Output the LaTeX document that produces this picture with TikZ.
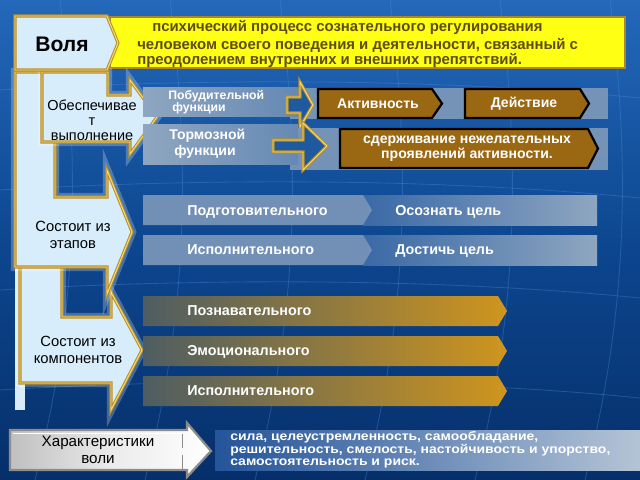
\documentclass[tikz,border=0pt]{standalone}
\usepackage{fontspec}
\setmainfont{Liberation Sans}
\definecolor{bgtop}{HTML}{2468BA}
\definecolor{bgmid}{HTML}{0D4790}
\definecolor{bgbot}{HTML}{062F6A}
\definecolor{gridc}{HTML}{4A8FE0}
\definecolor{pale}{HTML}{D8EDFB}
\definecolor{goldD}{HTML}{B8902A}
\definecolor{goldL}{HTML}{F4DC7C}
\definecolor{yel}{HTML}{FFFF14}
\definecolor{yelB}{HTML}{A8862E}
\definecolor{deftxt}{HTML}{5E4C16}
\definecolor{brownbox}{HTML}{9A6812}
\definecolor{band}{HTML}{7F9AB9}
\definecolor{boxL}{HTML}{8FA6C0}
\definecolor{boxR}{HTML}{6589B4}
\definecolor{arrblue}{HTML}{1F5AA0}
\definecolor{stL}{HTML}{7290B6}
\definecolor{stRa}{HTML}{3A69A6}
\definecolor{stRb}{HTML}{8EA6C0}
\definecolor{cmpL}{HTML}{4E5D62}
\definecolor{cmpR}{HTML}{CF951E}
\definecolor{botL}{HTML}{24549A}
\definecolor{botR}{HTML}{B4C4D6}
\tikzset{
  goldedge/.style={draw=goldD, line width=2.2pt, line join=miter,
     postaction={draw=goldL, line width=0.7pt}},
  glow/.style={preaction={draw=white, opacity=0.25, line width=6pt}},
  palearrow/.style={fill=pale, goldedge, glow},
  brownarrow/.style={fill=brownbox, draw=black, line width=1.6pt, line join=miter},
  smallarr/.style={fill=arrblue, goldedge},
  wlabel/.style={text=white, font=\bfseries\fontsize{10.2}{11.5}\selectfont, anchor=west, inner sep=0pt,
     text height=1.6ex, text depth=0.4ex},
  blabel/.style={text=black, font=\fontsize{10.5}{11.5}\selectfont, align=center, inner sep=0pt},
  ctext/.style={text=white, font=\bfseries\fontsize{10}{11}\selectfont, align=center, inner sep=0pt},
  deftext/.style={text=deftxt, font=\bfseries\fontsize{10.6}{12}\selectfont, anchor=west, inner sep=0pt},
  bottext/.style={text=white, font=\bfseries\fontsize{8.8}{9.5}\selectfont, anchor=west, inner sep=0pt},
}
\newcommand{\widen}[1]{\scalebox{1.13}[1]{#1}}
\begin{document}
\begin{tikzpicture}[x=0.025cm,y=-0.025cm]
\useasboundingbox (0,0) rectangle (640,480);
% background
\fill[bgmid] (0,0) rectangle (640,480);
\shade[top color=bgtop, bottom color=bgmid] (0,0) rectangle (640,240);
\shade[top color=bgmid, bottom color=bgbot] (0,240) rectangle (640,480);
\begin{scope}[draw=gridc, opacity=0.35, line width=0.6pt]
  \foreach \x in {60,170,280,390,500,610} {
    \draw (\x,0) .. controls (\x+25,200) and (\x+10,340) .. (\x-25,480);
  }
  \foreach \y in {90,190,290,390} {
    \draw (0,\y) .. controls (200,\y-12) and (440,\y-12) .. (640,\y+8);
  }
\end{scope}

% definition box
\fill[yel, draw=yelB, line width=2pt] (110,17) rectangle (625,68);
\node[deftext] (d1) at (152,28) {психический процесс сознательного регулирования};
\node[deftext] (d2) at (137,45) {человеком своего поведения и деятельности, связанный с};
\node[deftext] (d3) at (137,61) {преодолением внутренних и внешних препятствий.};

% left backbone and bent arrows
\fill[pale] (15,260) rectangle (25,410);
\path[palearrow] (20,255) -- (62,255) -- (62,317) -- (111,317) -- (111,292) -- (142,350)
   -- (111,410) -- (111,383) -- (20,383) -- cycle;
\path[palearrow] (15,72) -- (55,72) -- (55,197) -- (107,197) -- (107,170) -- (132,232)
   -- (107,294) -- (107,267) -- (15,267) -- cycle;
\path[palearrow] (42,72) -- (108,72) -- (108,95) -- (130,95) -- (130,80) -- (157,117)
   -- (130,154) -- (130,142) -- (42,142) -- cycle;

% Воля box
\path[fill=pale, goldedge] (15,16) -- (107,16) -- (118,43) -- (107,70) -- (15,70) -- cycle;
\node[font=\bfseries\fontsize{15}{17}\selectfont] (volya) at (62,44) {Воля};

\node[blabel, font=\fontsize{10.3}{10.8}\selectfont] (obesp) at (92,120) {Обеспечивае\\т\\выполнение};
\node[blabel] (etap) at (73,235) {Состоит из\\этапов};
\node[blabel] (komp) at (78,350) {Состоит из\\компонентов};

% row: Побудительной
\fill[band, opacity=0.9] (290,88) rectangle (608,119);
\shade[left color=boxL, right color=boxR] (143,87) rectangle (298,116);
\path[smallarr] (287,97) -- (300,97) -- (300,82) -- (313,105) -- (300,127) -- (300,113) -- (287,113) -- cycle;
\path[brownarrow] (318,89) -- (432,89) -- (442,103.5) -- (432,118) -- (318,118) -- cycle;
\path[brownarrow] (465,89) -- (580,89) -- (589,103.5) -- (580,118) -- (465,118) -- cycle;
\node[wlabel, font=\bfseries\fontsize{8.7}{9.5}\selectfont] (pob1) at (168,95) {Побудительной};
\node[wlabel, font=\bfseries\fontsize{8.7}{9.5}\selectfont] (pob2) at (172,107) {функции};
\node[ctext] (akt) at (378,103.5) {Активность};
\node[ctext] (deyst) at (524,103.5) {Действие};

% row: Тормозной
\fill[band, opacity=0.9] (290,128) rectangle (608,170);
\shade[left color=boxL, right color=boxR] (143,124) rectangle (298,164);
\path[smallarr] (273,140) -- (303,140) -- (303,123) -- (327,146) -- (303,170) -- (303,152) -- (273,152) -- cycle;
\path[brownarrow] (340,129) -- (588,129) -- (598,148.5) -- (588,168) -- (340,168) -- cycle;
\node[wlabel, font=\bfseries\fontsize{10}{11}\selectfont] (torm1) at (169,135) {Тормозной};
\node[wlabel, font=\bfseries\fontsize{10}{11}\selectfont] (torm2) at (174,151) {функции};
\node[ctext] (sderzh) at (467,148.5) {сдерживание нежелательных\\проявлений активности.};

% stages
\shade[left color=stRa, right color=stRb] (363,195) rectangle (597,225);
\fill[stL] (143,195) -- (363,195) -- (372,210) -- (363,225) -- (143,225) -- cycle;
\shade[left color=stRa, right color=stRb] (363,235) rectangle (597,265);
\fill[stL] (143,235) -- (363,235) -- (372,250) -- (363,265) -- (143,265) -- cycle;
\node[wlabel] (podg) at (187,211) {Подготовительного};
\node[wlabel] (osozn) at (395,211) {Осознать цель};
\node[wlabel] (ispst) at (187,250) {Исполнительного};
\node[wlabel] (dost) at (395,250) {Достичь цель};

% components
\foreach \yy/\nm/\txt in {296/pozn/Познавательного, 336/emoc/Эмоционального, 376/ispk/Исполнительного} {
  \shade[left color=cmpL, right color=cmpR] (143,\yy) -- (498,\yy) -- (507,\yy+15) -- (498,\yy+30) -- (143,\yy+30) -- cycle;
  \node[wlabel] (\nm) at (187,\yy+15.5) {\txt};
}

% bottom
\shade[left color=botL, right color=botR] (215,430) rectangle (640,470);
\shade[left color=black!25, right color=white, middle color=black!8, draw=black!45, line width=1.6pt]
   (10,430) -- (187,430) -- (187,423) -- (211,451) -- (187,477) -- (187,470) -- (10,470) -- cycle;
\draw[white, line width=0.6pt] (13,433) -- (184,433);
\draw[black!45, line width=0.6pt] (182,434) -- (182,448) (182,455) -- (182,469);
\node[blabel, font=\fontsize{10.8}{12}\selectfont] (harakt) at (98,450) {Характеристики\\воли};
\node[bottext] (b1) at (230,437) {\widen{сила, целеустремленность, самообладание,}};
\node[bottext] (b2) at (230,450) {\widen{решительность, смелость, настойчивость и упорство,}};
\node[bottext] (b3) at (230,463) {\widen{самостоятельность и риск.}};
\end{tikzpicture}
\end{document}
